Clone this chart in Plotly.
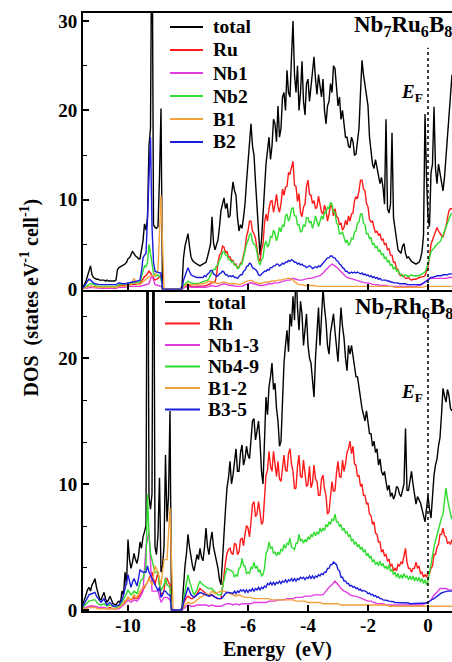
import numpy as np
import plotly.graph_objects as go

# Energy grids (eV): 0.05 eV for the busy curves, 0.1 eV for the small ones
E_START = -11.5
energy_fine = np.round(E_START + 0.05 * np.arange(247), 3)
energy_coarse = np.round(E_START + 0.1 * np.arange(124), 3)

# ---------------- Nb7Ru6B8 (states eV^-1 cell^-1) ----------------
ru_total = [
    0.3, 0.5, 0.9, 1.4, 2.0, 2.6, 1.6, 1.3, 1.2, 1.1, 1.1, 1.0, 1.0, 1.0, 1.0, 0.9, 1.0, 0.9, 0.9, 0.9,
    0.9, 0.9, 1.0, 2.2, 2.4, 2.5, 2.6, 2.7, 2.8, 3.0, 3.4, 3.5, 3.8, 4.2, 4.0, 3.7, 3.6, 3.4, 3.4, 4.6,
    5.4, 7.3, 6.6, 8.0, 16.0, 18.0, 45.0, 7.2, 6.9, 6.8, 7.0, 12.5, 20.2, 0.0, 0.0, 0.0, 0.0, 0.0, 0.0, 0.0,
    0.0, 0.0, 0.0, 0.0, 0.0, 0.0, 0.3, 3.5, 4.8, 5.5, 6.2, 4.8, 3.6, 3.2, 3.0, 2.9, 2.8, 2.7, 2.6, 2.7,
    2.8, 2.9, 3.0, 3.6, 4.5, 5.0, 8.1, 5.2, 4.4, 5.0, 5.5, 7.0, 8.8, 9.5, 10.2, 9.0, 9.6, 8.0, 8.2, 10.5,
    12.0, 11.0, 10.5, 8.0, 6.5, 7.2, 6.8, 8.0, 9.5, 12.0, 14.5, 16.5, 18.5, 16.0, 15.0, 12.0, 9.0, 6.0, 3.8, 5.5,
    8.5, 11.0, 14.0, 15.5, 17.0, 14.5, 16.0, 19.0, 18.5, 16.5, 20.5, 17.0, 18.0, 21.5, 22.0, 20.0, 24.5, 22.0, 21.5, 26.0,
    30.0, 24.0, 22.0, 25.0, 20.0, 22.0, 25.5, 21.0, 19.5, 23.0, 23.5, 21.0, 22.5, 24.0, 26.0, 23.5, 21.8, 24.0, 23.0, 21.5,
    23.5, 20.0, 18.5, 20.5, 21.0, 23.0, 22.0, 25.0, 24.7, 22.0, 20.5, 21.5, 19.0, 20.0, 18.5, 17.0, 17.0, 16.0, 15.8, 17.0,
    16.5, 15.0, 15.1, 17.0, 18.0, 22.0, 25.6, 24.0, 23.0, 21.5, 20.5, 17.0, 15.0, 14.0, 13.5, 14.5, 13.6, 12.5, 11.8, 12.5,
    11.4, 9.5, 19.0, 9.0, 8.5, 9.5, 17.5, 8.0, 6.9, 5.5, 4.4, 4.2, 4.0, 4.8, 5.1, 4.0, 3.5, 3.6, 3.3, 3.1,
    3.0, 2.9, 2.8, 2.9, 3.0, 3.4, 4.2, 6.0, 19.6, 12.5, 8.0, 7.0, 13.0, 14.0, 20.4, 13.5, 11.8, 14.0, 13.0, 11.5,
    11.0, 12.5, 15.0, 17.5, 20.0, 22.5, 24.0,
]
ru_ru = [
    0.1, 0.15, 0.2, 0.25, 0.3, 0.3, 0.3, 0.25, 0.2, 0.2, 0.2, 0.2, 0.2, 0.2, 0.2, 0.2, 0.2, 0.2, 0.2, 0.2,
    0.2, 0.2, 0.2, 0.3, 0.4, 0.4, 0.4, 0.4, 0.4, 0.45, 0.5, 0.5, 0.5, 0.5, 0.5, 0.5, 0.5, 0.55, 0.6, 0.9,
    1.2, 1.4, 1.5, 1.8, 2.0, 1.8, 1.5, 1.2, 1.0, 1.1, 1.2, 1.4, 1.6, 0.0, 0.0, 0.0, 0.0, 0.0, 0.0, 0.0,
    0.0, 0.0, 0.0, 0.0, 0.0, 0.0, 0.0, 0.2, 0.3, 0.35, 0.4, 0.35, 0.3, 0.3, 0.3, 0.3, 0.3, 0.3, 0.3, 0.3,
    0.3, 0.35, 0.4, 0.45, 0.5, 0.6, 0.8, 0.7, 0.8, 1.5, 3.0, 3.8, 4.0, 4.8, 4.7, 4.1, 4.2, 3.6, 3.6, 3.2,
    3.2, 2.7, 2.8, 2.3, 2.5, 2.9, 3.0, 3.8, 4.5, 5.9, 6.5, 7.6, 7.6, 6.5, 6.2, 5.7, 4.5, 3.4, 3.1, 4.4,
    5.0, 7.4, 8.4, 7.6, 9.0, 9.8, 9.9, 8.6, 9.5, 10.6, 9.2, 8.6, 9.6, 11.2, 10.5, 11.4, 11.5, 13.0, 12.9, 13.8,
    14.3, 11.6, 11.5, 9.8, 10.7, 8.6, 8.1, 9.2, 9.5, 11.5, 12.2, 10.6, 10.5, 9.6, 9.9, 9.0, 9.2, 10.4, 9.6, 8.6,
    8.4, 9.4, 8.8, 7.6, 8.4, 9.4, 9.2, 8.2, 9.0, 8.1, 8.0, 7.2, 7.4, 6.6, 6.9, 7.7, 7.2, 8.2, 7.6, 8.4,
    8.5, 9.9, 10.3, 10.2, 11.0, 12.2, 12.2, 11.2, 11.0, 9.6, 9.2, 7.8, 7.5, 7.6, 6.9, 6.3, 6.5, 6.0, 6.2, 5.5,
    5.6, 5.0, 5.1, 4.4, 4.5, 3.8, 3.8, 3.0, 3.0, 2.3, 2.2, 1.6, 1.5, 1.6, 1.4, 1.2, 1.2, 1.3, 1.1, 1.0,
    1.1, 1.1, 1.1, 1.2, 1.3, 1.3, 1.4, 1.4, 1.5, 2.0, 2.5, 3.6, 5.0, 5.5, 6.0, 6.5, 6.9, 6.5, 6.2, 6.0,
    5.8, 6.4, 7.0, 8.0, 8.8, 9.0, 9.0,
]
ru_nb2 = [
    0.1, 0.2, 0.3, 0.4, 0.5, 0.6, 0.6, 0.5, 0.4, 0.35, 0.3, 0.3, 0.3, 0.3, 0.3, 0.3, 0.3, 0.3, 0.3, 0.3,
    0.3, 0.3, 0.3, 0.4, 0.5, 0.5, 0.5, 0.55, 0.6, 0.6, 0.6, 0.6, 0.6, 0.65, 0.7, 0.7, 0.7, 0.75, 0.8, 1.4,
    2.0, 2.6, 2.5, 3.0, 5.0, 4.0, 2.5, 1.8, 1.5, 1.5, 1.6, 1.4, 1.2, 0.0, 0.0, 0.0, 0.0, 0.0, 0.0, 0.0,
    0.0, 0.0, 0.0, 0.0, 0.0, 0.0, 0.0, 0.4, 0.6, 0.8, 0.9, 0.8, 0.7, 0.65, 0.6, 0.6, 0.6, 0.65, 0.7, 0.75,
    0.8, 0.85, 0.9, 1.0, 1.2, 1.5, 2.0, 2.2, 2.2, 2.6, 2.7, 3.3, 3.5, 4.1, 4.2, 3.8, 3.8, 3.3, 3.3, 3.0,
    3.1, 2.7, 2.7, 2.3, 2.4, 2.8, 2.8, 3.6, 4.0, 5.0, 5.4, 6.1, 6.2, 5.3, 5.0, 4.9, 4.1, 3.1, 2.7, 3.3,
    3.5, 4.9, 5.4, 4.7, 5.0, 5.9, 5.8, 6.6, 6.2, 5.4, 6.0, 6.9, 6.4, 7.2, 7.0, 8.2, 8.4, 7.6, 8.0, 9.0,
    9.1, 8.2, 8.2, 7.2, 7.2, 6.4, 6.5, 7.2, 7.0, 8.0, 8.0, 7.4, 7.6, 6.8, 7.4, 8.2, 7.6, 7.0, 7.6, 8.2,
    7.8, 8.6, 8.5, 9.2, 9.0, 9.7, 9.5, 8.6, 8.6, 7.4, 7.2, 6.2, 6.2, 6.4, 5.8, 5.2, 5.5, 4.9, 5.1, 5.7,
    5.6, 6.4, 6.5, 7.4, 7.5, 8.4, 8.4, 7.4, 7.2, 6.2, 6.2, 5.6, 5.8, 5.0, 5.1, 4.6, 4.8, 4.2, 4.4, 3.8,
    4.0, 3.4, 3.6, 3.0, 3.2, 2.6, 2.8, 2.2, 2.5, 2.0, 2.1, 1.7, 1.7, 1.4, 1.5, 1.6, 1.5, 1.4, 1.5, 1.6,
    1.5, 1.5, 1.5, 1.5, 1.5, 1.6, 1.7, 1.8, 1.9, 2.3, 2.8, 3.5, 4.2, 4.4, 4.6, 4.9, 5.1, 5.2, 5.3, 5.6,
    6.0, 6.5, 7.0, 7.5, 8.0, 8.3, 8.5,
]
ru_b2 = [
    0.1, 0.3, 0.6, 0.9, 1.1, 1.0, 0.8, 0.7, 0.6, 0.55, 0.5, 0.5, 0.5, 0.5, 0.5, 0.5, 0.5, 0.5, 0.5, 0.5,
    0.5, 0.5, 0.5, 0.6, 0.7, 0.65, 0.6, 0.6, 0.6, 0.65, 0.7, 0.75, 0.8, 0.8, 0.8, 0.85, 0.9, 0.95, 1.0, 2.0,
    3.5, 3.8, 4.0, 8.0, 13.0, 17.0, 7.0, 3.0, 2.0, 1.9, 1.9, 1.8, 1.8, 0.0, 0.0, 0.0, 0.0, 0.0, 0.0, 0.0,
    0.0, 0.0, 0.0, 0.0, 0.0, 0.0, 0.0, 1.0, 1.5, 2.0, 2.4, 2.0, 1.6, 1.5, 1.4, 1.35, 1.3, 1.3, 1.3, 1.3,
    1.3, 1.5, 1.4, 1.7, 1.8, 2.1, 2.1, 1.7, 1.6, 1.4, 1.5, 1.7, 1.8, 2.0, 1.9, 1.6, 1.6, 1.4, 1.5, 1.4,
    1.5, 1.3, 1.3, 1.2, 1.4, 1.6, 1.6, 2.0, 2.1, 2.5, 2.6, 2.9, 2.8, 2.4, 2.3, 2.2, 2.0, 1.6, 1.5, 1.7,
    1.8, 2.0, 2.0, 2.2, 2.1, 2.4, 2.4, 2.6, 2.6, 2.8, 2.8, 2.6, 2.7, 2.9, 2.8, 3.0, 3.0, 3.2, 3.1, 3.3,
    3.2, 3.0, 3.0, 2.8, 2.9, 2.7, 2.8, 2.6, 2.6, 2.4, 2.5, 2.6, 2.5, 2.3, 2.4, 2.5, 2.4, 2.6, 2.5, 2.7,
    2.8, 3.1, 3.2, 3.5, 3.5, 3.7, 3.7, 3.5, 3.5, 3.2, 3.1, 2.8, 2.7, 2.4, 2.3, 2.0, 2.0, 1.8, 1.8, 1.9,
    1.8, 1.9, 1.8, 1.9, 1.8, 1.7, 1.8, 1.6, 1.7, 1.5, 1.6, 1.4, 1.5, 1.3, 1.4, 1.2, 1.3, 1.1, 1.2, 1.0,
    1.0, 1.0, 1.0, 0.9, 0.9, 0.8, 0.8, 0.7, 0.7, 0.7, 0.7, 0.6, 0.6, 0.6, 0.6, 0.6, 0.5, 0.5, 0.5, 0.5,
    0.5, 0.5, 0.5, 0.5, 0.5, 0.5, 0.6, 0.7, 0.8, 0.9, 1.0, 1.2, 1.3, 1.3, 1.4, 1.4, 1.5, 1.5, 1.5, 1.5,
    1.6, 1.6, 1.6, 1.6, 1.7, 1.7, 1.7,
]
ru_nb1 = [
    0.05, 0.1, 0.2, 0.2, 0.15, 0.1, 0.1, 0.1, 0.1, 0.1,
    0.1, 0.1, 0.2, 0.2, 0.2, 0.3, 0.3, 0.3, 0.3, 0.3,
    0.4, 0.5, 0.6, 1.6, 0.5, 0.4, 0.3, 0.0, 0.0, 0.0,
    0.0, 0.0, 0.0, 0.0, 0.2, 0.3, 0.2, 0.2, 0.2, 0.2,
    0.2, 0.2, 0.3, 0.4, 0.3, 0.3, 0.5, 0.6, 0.5, 0.4,
    0.4, 0.3, 0.3, 0.3, 0.5, 0.6, 0.7, 0.6, 0.5, 0.4,
    0.4, 0.5, 0.6, 0.6, 0.7, 0.7, 0.8, 0.9, 1.0, 1.0,
    1.2, 1.1, 1.0, 1.0, 1.1, 1.2, 1.2, 1.3, 1.4, 1.5,
    1.8, 2.2, 2.5, 2.8, 2.6, 2.3, 1.9, 1.6, 1.3, 1.2,
    1.1, 1.0, 0.9, 0.8, 0.7, 0.7, 0.6, 0.5, 0.5, 0.4,
    0.4, 0.4, 0.3, 0.3, 0.3, 0.3, 0.3, 0.3, 0.3, 0.3,
    0.3, 0.3, 0.4, 0.5, 0.8, 1.1, 1.2, 1.2, 1.2, 1.2,
    1.2, 1.2, 1.3, 1.3,
]
ru_b1 = [
    0.05, 0.2, 0.3, 0.3, 0.2, 0.2, 0.2, 0.2, 0.2, 0.2,
    0.2, 0.2, 0.3, 0.3, 0.3, 0.4, 0.5, 1.2, 0.5, 0.5,
    0.8, 1.0, 1.4, 1.5, 1.5, 2.2, 10.5, 0.0, 0.0, 0.0,
    0.0, 0.0, 0.0, 0.0, 0.4, 0.6, 0.5, 0.5, 0.5, 0.6,
    0.6, 0.7, 0.9, 0.8, 0.7, 0.6, 0.7, 0.8, 0.7, 0.6,
    0.6, 0.6, 0.5, 0.6, 0.8, 0.9, 1.0, 0.8, 0.7, 0.6,
    0.7, 0.8, 0.8, 0.9, 0.9, 1.0, 1.0, 1.1, 1.2, 1.2,
    1.0, 0.7, 0.5, 0.5, 0.4, 0.4, 0.4, 0.4, 0.3, 0.3,
    0.3, 0.3, 0.3, 0.3, 0.3, 0.3, 0.3, 0.3, 0.3, 0.3,
    0.3, 0.3, 0.3, 0.3, 0.3, 0.3, 0.3, 0.3, 0.3, 0.3,
    0.3, 0.3, 0.3, 0.3, 0.2, 0.2, 0.2, 0.2, 0.2, 0.2,
    0.2, 0.2, 0.2, 0.2, 0.3, 0.3, 0.3, 0.3, 0.3, 0.3,
    0.3, 0.3, 0.3, 0.3,
]

# ---------------- Nb7Rh6B8 (states eV^-1 cell^-1) ----------------
rh_total = [
    0.5, 0.8, 1.2, 1.6, 1.8, 1.5, 2.0, 2.2, 2.5, 1.8, 1.2, 0.9, 0.8, 1.1, 1.4, 0.9, 0.6, 0.8, 1.1, 0.8,
    0.5, 0.45, 0.4, 0.6, 0.7, 0.6, 1.5, 1.2, 3.0, 2.0, 5.6, 4.0, 3.3, 3.8, 4.5, 4.0, 3.7, 4.3, 5.4, 4.9,
    5.8, 6.2, 6.7, 40.0, 9.0, 8.0, 9.2, 40.0, 5.0, 4.4, 6.0, 10.5, 3.0, 3.5, 5.0, 12.3, 7.0, 9.0, 15.8, 0.0,
    0.0, 0.0, 0.0, 0.0, 0.0, 0.0, 0.2, 2.0, 3.5, 4.5, 6.0, 5.0, 4.0, 3.5, 3.1, 3.8, 4.4, 4.0, 4.9, 4.2,
    3.9, 5.0, 6.5, 5.0, 4.4, 5.5, 6.2, 5.0, 4.5, 3.8, 3.3, 2.4, 2.0, 4.0, 6.5, 8.0, 9.7, 10.5, 11.8, 10.0,
    10.7, 12.0, 12.8, 11.0, 11.0, 12.5, 13.1, 11.5, 12.0, 13.0, 12.3, 12.0, 13.5, 15.0, 15.2, 13.5, 14.2, 15.0, 13.4, 11.0,
    10.0, 13.5, 16.9, 15.5, 17.7, 18.5, 19.6, 17.5, 18.0, 16.0, 15.0, 13.0, 13.4, 16.5, 19.6, 21.0, 22.2, 20.5, 23.5, 22.5,
    24.9, 23.0, 27.0, 24.0, 22.2, 24.5, 23.5, 21.0, 22.0, 23.5, 21.0, 20.0, 19.6, 18.0, 16.9, 20.0, 22.5, 24.0, 21.0, 23.0,
    25.5, 24.0, 22.9, 21.0, 20.3, 22.0, 22.9, 23.5, 22.1, 21.0, 19.7, 22.0, 24.0, 22.5, 21.6, 20.0, 19.0, 21.0, 20.3, 21.0,
    20.0, 19.5, 18.5, 18.5, 17.6, 16.5, 16.0, 15.5, 15.0, 15.8, 14.6, 14.0, 14.0, 13.0, 13.4, 12.5, 12.8, 11.5, 12.0, 11.0,
    10.7, 11.0, 10.2, 9.5, 9.9, 9.0, 9.3, 8.8, 9.1, 9.8, 9.7, 9.2, 9.0, 9.5, 10.0, 14.4, 9.5, 9.5, 10.5, 11.0,
    10.0, 9.0, 8.4, 9.0, 8.8, 8.5, 8.0, 7.5, 7.0, 8.0, 9.1, 8.0, 7.3, 9.0, 10.7, 11.5, 12.0, 13.0, 13.7, 15.5,
    17.6, 17.0, 16.5, 17.5, 17.0, 16.0, 15.8,
]
rh_rh = [
    0.1, 0.15, 0.2, 0.25, 0.3, 0.3, 0.3, 0.3, 0.3, 0.25, 0.2, 0.2, 0.2, 0.2, 0.2, 0.15, 0.1, 0.15, 0.2, 0.15,
    0.1, 0.1, 0.1, 0.15, 0.2, 0.3, 0.4, 0.5, 0.7, 0.8, 1.0, 0.9, 0.8, 0.9, 1.0, 0.9, 0.9, 1.0, 1.2, 1.3,
    1.5, 1.8, 2.0, 2.2, 2.5, 2.8, 3.0, 2.5, 2.0, 2.5, 3.0, 2.0, 1.2, 1.3, 1.5, 2.5, 2.5, 2.2, 2.0, 0.0,
    0.0, 0.0, 0.0, 0.0, 0.0, 0.0, 0.0, 0.5, 0.8, 1.0, 1.1, 1.0, 0.9, 0.9, 1.0, 1.1, 1.3, 1.5, 1.7, 1.6,
    1.5, 1.4, 1.3, 1.2, 1.1, 1.2, 1.2, 1.1, 1.0, 1.0, 0.9, 0.9, 0.9, 1.8, 3.0, 3.8, 4.5, 4.8, 4.9, 4.5,
    4.4, 5.3, 5.2, 4.4, 4.6, 5.6, 5.7, 5.1, 6.0, 6.7, 6.5, 5.8, 7.0, 8.4, 8.6, 7.4, 7.6, 8.6, 7.8, 6.8,
    7.0, 9.4, 10.7, 11.1, 12.6, 11.4, 11.0, 12.6, 11.8, 10.6, 11.8, 10.4, 10.2, 11.4, 12.3, 11.1, 11.0, 12.4, 12.8, 11.6,
    11.0, 9.6, 9.7, 11.4, 12.3, 10.6, 10.5, 11.9, 11.0, 9.8, 10.0, 11.4, 9.7, 10.1, 11.5, 10.4, 10.2, 9.1, 9.1, 10.4,
    10.7, 9.6, 9.1, 7.6, 7.8, 9.4, 10.2, 9.4, 9.5, 10.9, 11.8, 10.6, 10.5, 11.9, 11.0, 11.6, 12.5, 12.8, 13.4, 12.4,
    13.0, 11.6, 11.5, 10.6, 10.7, 9.8, 10.0, 9.1, 9.1, 8.4, 8.5, 7.6, 7.5, 6.8, 7.0, 6.1, 6.0, 5.4, 5.4, 4.6,
    4.8, 4.3, 4.4, 3.9, 4.0, 3.5, 3.6, 3.1, 3.3, 3.1, 3.6, 3.5, 3.8, 3.7, 4.2, 4.9, 3.8, 3.3, 3.3, 3.0,
    3.3, 3.3, 3.8, 3.3, 3.5, 2.9, 3.0, 2.6, 2.8, 2.6, 3.0, 2.9, 3.3, 3.5, 4.4, 4.4, 5.0, 5.2, 6.0, 6.0,
    6.5, 5.9, 5.8, 5.3, 5.4, 5.2, 5.6,
]
rh_nb49 = [
    0.2, 0.35, 0.5, 0.6, 0.7, 0.75, 0.8, 0.8, 0.8, 0.6, 0.5, 0.45, 0.4, 0.45, 0.5, 0.4, 0.3, 0.35, 0.4, 0.35,
    0.3, 0.25, 0.2, 0.25, 0.3, 0.4, 0.6, 0.8, 1.0, 1.3, 1.6, 1.4, 1.2, 1.3, 1.5, 1.4, 1.3, 1.7, 2.2, 2.4,
    2.5, 3.0, 3.5, 9.2, 6.0, 4.5, 4.0, 3.5, 3.0, 3.0, 3.0, 2.0, 1.5, 1.8, 2.0, 2.5, 2.0, 1.9, 1.8, 0.0,
    0.0, 0.0, 0.0, 0.0, 0.0, 0.0, 0.0, 0.8, 1.5, 2.2, 2.8, 2.3, 1.8, 1.5, 1.2, 1.4, 1.6, 2.0, 2.3, 2.1,
    2.0, 1.9, 1.8, 1.75, 1.7, 1.7, 1.7, 1.55, 1.4, 1.3, 1.2, 1.2, 1.2, 1.8, 2.5, 2.9, 3.3, 3.25, 3.2, 3.1,
    3.0, 2.6, 2.8, 2.7, 3.3, 3.4, 4.1, 3.5, 3.5, 2.9, 3.0, 2.9, 3.4, 3.3, 3.8, 3.3, 3.5, 3.0, 3.2, 2.7,
    2.8, 3.3, 4.5, 4.7, 5.4, 4.9, 5.0, 4.5, 4.6, 4.3, 4.6, 4.4, 4.8, 4.7, 5.2, 4.9, 5.3, 5.2, 5.7, 5.0,
    4.9, 4.8, 5.3, 5.3, 6.0, 5.5, 5.6, 5.3, 5.6, 5.4, 5.8, 5.6, 6.0, 5.8, 6.2, 5.9, 6.2, 6.0, 6.5, 6.2,
    6.5, 6.3, 6.8, 6.6, 7.0, 6.8, 7.2, 7.1, 7.6, 7.0, 7.0, 6.6, 6.8, 6.3, 6.5, 6.1, 6.2, 5.8, 6.0, 5.5,
    5.6, 5.2, 5.4, 5.0, 5.2, 4.8, 5.0, 4.6, 4.8, 4.3, 4.5, 4.1, 4.3, 3.8, 4.0, 3.6, 3.8, 3.5, 3.9, 3.5,
    3.7, 3.3, 3.5, 3.2, 3.6, 3.1, 3.2, 2.8, 3.0, 2.6, 2.9, 2.5, 2.8, 2.5, 2.9, 2.6, 2.7, 2.4, 2.7, 2.4,
    2.7, 2.3, 2.6, 2.3, 2.6, 2.2, 2.5, 2.1, 2.4, 2.0, 2.3, 3.0, 3.8, 4.4, 5.0, 5.5, 6.0, 6.5, 7.0, 7.3,
    7.6, 8.5, 9.7, 8.8, 8.0, 7.6, 7.2,
]
rh_b35 = [
    0.3, 0.5, 0.8, 1.0, 1.2, 1.25, 1.3, 1.35, 1.4, 1.1, 0.9, 0.7, 0.6, 0.75, 0.9, 0.6, 0.4, 0.5, 0.6, 0.45,
    0.3, 0.3, 0.3, 0.35, 0.4, 0.6, 0.8, 1.2, 1.6, 2.2, 2.8, 2.2, 1.8, 2.2, 2.5, 2.2, 1.9, 2.5, 3.2, 3.1,
    3.0, 3.0, 3.0, 3.5, 3.0, 2.8, 2.5, 2.2, 2.0, 1.8, 1.5, 1.8, 1.0, 1.2, 1.5, 1.5, 1.3, 1.2, 1.2, 0.0,
    0.0, 0.0, 0.0, 0.0, 0.0, 0.0, 0.0, 0.6, 1.0, 1.4, 1.8, 1.5, 1.2, 1.1, 1.0, 1.1, 1.2, 1.3, 1.4, 1.35,
    1.3, 1.25, 1.2, 1.15, 1.1, 1.15, 1.2, 1.1, 1.0, 0.95, 0.9, 0.9, 0.9, 1.0, 1.2, 1.3, 1.4, 1.4, 1.4, 1.35,
    1.3, 1.5, 1.3, 1.5, 1.4, 1.6, 1.5, 1.6, 1.4, 1.6, 1.4, 1.6, 1.5, 1.7, 1.5, 1.7, 1.6, 1.8, 1.6, 1.8,
    1.7, 1.9, 1.8, 2.1, 2.0, 2.2, 2.0, 2.2, 2.0, 2.2, 2.1, 2.3, 2.1, 2.3, 2.2, 2.4, 2.2, 2.4, 2.3, 2.5,
    2.3, 2.5, 2.3, 2.5, 2.4, 2.6, 2.5, 2.6, 2.4, 2.6, 2.5, 2.7, 2.5, 2.7, 2.5, 2.7, 2.6, 2.8, 2.7, 2.9,
    2.8, 3.0, 3.0, 3.3, 3.3, 3.6, 3.6, 3.8, 3.7, 3.6, 3.2, 3.1, 2.6, 2.6, 2.3, 2.3, 2.1, 2.1, 1.9, 1.95,
    1.8, 1.85, 1.7, 1.75, 1.6, 1.65, 1.5, 1.55, 1.5, 1.45, 1.3, 1.35, 1.2, 1.25, 1.1, 1.15, 1.0, 1.05, 0.9, 0.9,
    0.8, 0.8, 0.8, 0.75, 0.7, 0.7, 0.7, 0.65, 0.6, 0.6, 0.6, 0.6, 0.6, 0.6, 0.6, 0.6, 0.6, 0.55, 0.5, 0.5,
    0.5, 0.5, 0.5, 0.5, 0.5, 0.5, 0.5, 0.5, 0.5, 0.55, 0.6, 0.7, 0.8, 0.85, 0.9, 1.0, 1.1, 1.2, 1.3, 1.35,
    1.4, 1.45, 1.5, 1.5, 1.5, 1.5, 1.5,
]
rh_nb13 = [
    0.1, 0.2, 0.3, 0.3, 0.3, 0.2, 0.2, 0.2, 0.1, 0.1,
    0.1, 0.1, 0.1, 0.3, 0.5, 0.8, 0.6, 0.8, 0.7, 1.0,
    1.5, 5.0, 6.2, 1.5, 1.5, 1.5, 0.6, 1.0, 1.0, 0.8,
    0.0, 0.0, 0.0, 0.0, 0.2, 0.4, 0.3, 0.3, 0.4, 0.4,
    0.4, 0.4, 0.3, 0.4, 0.3, 0.3, 0.3, 0.4, 0.5, 0.5,
    0.4, 0.5, 0.4, 0.5, 0.5, 0.5, 0.5, 0.6, 0.6, 0.6,
    0.6, 0.6, 0.7, 0.7, 0.7, 0.8, 0.8, 0.8, 0.9, 0.9,
    0.9, 1.0, 1.0, 1.0, 1.1, 1.1, 1.1, 1.2, 1.2, 1.2,
    1.2, 1.5, 1.8, 2.0, 2.3, 2.0, 1.7, 1.5, 1.4, 1.2,
    1.1, 1.1, 1.0, 0.9, 0.8, 0.7, 0.7, 0.6, 0.5, 0.5,
    0.5, 0.4, 0.4, 0.4, 0.4, 0.4, 0.4, 0.4, 0.4, 0.4,
    0.4, 0.4, 0.4, 0.4, 0.5, 0.6, 0.8, 1.2, 1.4, 1.7,
    1.7, 1.7, 1.6, 1.6,
]
rh_b12 = [
    0.1, 0.1, 0.2, 0.2, 0.2, 0.1, 0.1, 0.1, 0.1, 0.1,
    0.1, 0.1, 0.2, 0.4, 0.6, 1.0, 0.8, 1.2, 1.0, 1.5,
    1.8, 2.0, 2.5, 2.0, 3.5, 3.0, 2.0, 4.0, 4.0, 8.1,
    0.0, 0.0, 0.0, 0.0, 0.4, 0.6, 0.5, 0.6, 0.8, 1.0,
    1.1, 1.3, 1.2, 1.5, 1.3, 1.4, 1.5, 1.5, 1.4, 1.3,
    1.2, 1.1, 1.2, 1.1, 1.0, 1.0, 1.0, 0.9, 0.9, 0.9,
    0.9, 0.9, 0.9, 0.8, 0.8, 0.8, 0.8, 0.8, 0.8, 0.8,
    0.8, 0.7, 0.7, 0.7, 0.7, 0.6, 0.6, 0.6, 0.6, 0.6,
    0.5, 0.5, 0.5, 0.5, 0.5, 0.5, 0.4, 0.4, 0.4, 0.4,
    0.4, 0.4, 0.4, 0.4, 0.4, 0.4, 0.4, 0.4, 0.4, 0.4,
    0.4, 0.4, 0.3, 0.3, 0.3, 0.3, 0.3, 0.3, 0.3, 0.3,
    0.3, 0.3, 0.3, 0.3, 0.3, 0.3, 0.3, 0.3, 0.3, 0.3,
    0.3, 0.3, 0.3, 0.3,
]

# Series names, colours (panel order = key order)
ru_names = ["total", "Ru", "Nb1", "Nb2", "B1", "B2"]
rh_names = ["total", "Rh", "Nb1-3", "Nb4-9", "B1-2", "B3-5"]
colors = ["#000000", "#ff1a1a", "#e23be2", "#2fdc2f", "#f2a23c", "#1c1cdc"]
ru_series = [ru_total, ru_ru, ru_nb1, ru_nb2, ru_b1, ru_b2]
rh_series = [rh_total, rh_rh, rh_nb13, rh_nb49, rh_b12, rh_b35]

x_ticks = [-10, -8, -6, -4, -2, 0]
x_tick_labels = ["-10", "-8", "-6", "-4", "-2", "0"]
ru_y_ticks = [0, 10, 20, 30]
rh_y_ticks = [0, 10, 20]

FONT = "Liberation Serif"
SPLIT = 0.5368  # fraction of the plot height given to the lower panel


def grid_for(vals):
    if len(vals) == len(energy_fine):
        return energy_fine
    assert len(vals) == len(energy_coarse), len(vals)
    return energy_coarse


fig = go.Figure()
for name, vals, col in zip(ru_names, ru_series, colors):
    fig.add_trace(go.Scatter(x=grid_for(vals), y=vals, name=name, mode="lines",
                             line=dict(color=col, width=1.4), showlegend=False,
                             xaxis="x", yaxis="y"))
for name, vals, col in zip(rh_names, rh_series, colors):
    fig.add_trace(go.Scatter(x=grid_for(vals), y=vals, name=name, mode="lines",
                             line=dict(color=col, width=1.4), showlegend=False,
                             xaxis="x2", yaxis="y2"))

axis_font = dict(family=FONT, size=19, color="black", weight="bold")
common_x = dict(range=[-11.5, 0.8], tickvals=x_ticks, ticktext=x_tick_labels,
                ticks="inside", ticklen=6, tickwidth=1.5, tickcolor="black",
                showline=True, linecolor="black", linewidth=2,
                showgrid=False, zeroline=False, tickfont=axis_font)
common_y = dict(ticks="inside", ticklen=6, tickwidth=1.5, tickcolor="black",
                showline=True, linecolor="black", linewidth=2,
                showgrid=False, zeroline=False, tickfont=axis_font)

fig.update_layout(
    width=452, height=662,
    margin=dict(l=83, r=0, t=13, b=51),
    paper_bgcolor="white", plot_bgcolor="white",
    font=dict(family=FONT, color="black"),
    showlegend=False,
    xaxis=dict(domain=[0, 1], anchor="y", showticklabels=False, mirror=True, **common_x),
    yaxis=dict(domain=[SPLIT, 1], anchor="x", range=[-0.1, 30.9], tickvals=ru_y_ticks,
               minor=dict(dtick=5, tick0=0, ticks="inside", ticklen=4,
                          tickcolor="black", tickwidth=1.2),
               **common_y),
    xaxis2=dict(domain=[0, 1], anchor="y2", matches="x", ticklabelstandoff=-4,
                **common_x),
    yaxis2=dict(domain=[0, SPLIT], anchor="x2", range=[-0.08, 25.4], tickvals=rh_y_ticks,
                minor=dict(dtick=10 / 3, tick0=0, ticks="inside", ticklen=4,
                           tickcolor="black", tickwidth=1.2),
                **common_y),
)


# Key boxes placed in pixel terms of the 452x662 canvas
def px_x(px):
    return (px - 83) / 369


def px_y(py):
    return (611 - py) / 598


legend_font = dict(family=FONT, size=19.5, color="black", weight="bold")


def draw_key(names, x_line0, x_line1, x_text, row_y):
    for name, col, py in zip(names, colors, row_y):
        fig.add_shape(type="line", xref="paper", yref="paper",
                      x0=px_x(x_line0), x1=px_x(x_line1), y0=px_y(py), y1=px_y(py),
                      line=dict(color=col, width=2))
        fig.add_annotation(text=name, xref="paper", yref="paper",
                           x=px_x(x_text), y=px_y(py), xanchor="left", yanchor="middle",
                           showarrow=False, font=legend_font)


draw_key(ru_names, 170, 203, 211, [27, 50, 73, 96, 119, 142])
draw_key(rh_names, 165, 200, 206, [302, 323.5, 345, 366.5, 388, 409.5])

# Fermi level markers
fig.add_shape(type="line", xref="x", yref="y", x0=0, x1=0, y0=0, y1=27,
              line=dict(color="black", width=1.5, dash="dot"))
fig.add_shape(type="line", xref="x2", yref="y2", x0=0, x1=0, y0=0, y1=23.6,
              line=dict(color="black", width=1.5, dash="dot"))

label_font = dict(family=FONT, size=23, color="black", weight="bold")
ef_font = dict(family=FONT, size=19, color="black", weight="bold")
fig.add_annotation(text="Nb<sub>7</sub>Ru<sub>6</sub>B<sub>8</sub>", xref="x", yref="y",
                   x=-2.53, y=29.5, xanchor="left", yanchor="middle",
                   showarrow=False, font=label_font)
fig.add_annotation(text="Nb<sub>7</sub>Rh<sub>6</sub>B<sub>8</sub>", xref="x2", yref="y2",
                   x=-2.5, y=24.0, xanchor="left", yanchor="middle",
                   showarrow=False, font=label_font)
fig.add_annotation(text="<i>E</i><sub>F</sub>", xref="x", yref="y",
                   x=-0.1, y=22.0, xanchor="right", yanchor="middle",
                   showarrow=False, font=ef_font)
fig.add_annotation(text="<i>E</i><sub>F</sub>", xref="x2", yref="y2",
                   x=-0.1, y=17.2, xanchor="right", yanchor="middle",
                   showarrow=False, font=ef_font)

title_font = dict(family=FONT, size=20, color="black", weight="bold")
fig.add_annotation(text="DOS  (states eV<sup>-1</sup> cell<sup>-1</sup>)",
                   xref="paper", yref="paper", x=-0.145, y=0.525,
                   textangle=-90, showarrow=False, font=title_font,
                   xanchor="center", yanchor="middle")
fig.add_annotation(text="Energy  (eV)", xref="paper", yref="paper",
                   x=0.528, y=-0.065, showarrow=False, font=title_font,
                   xanchor="center", yanchor="middle")

fig.write_html("out.html")
